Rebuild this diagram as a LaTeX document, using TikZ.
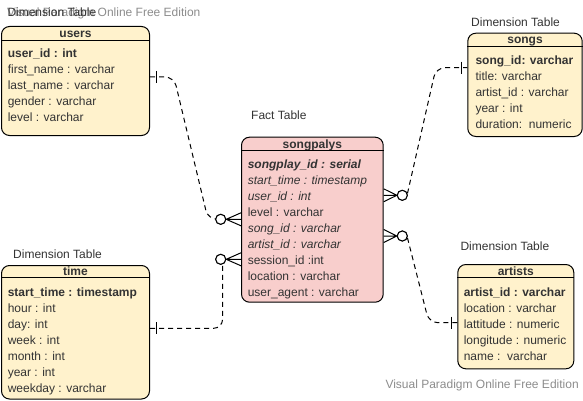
\documentclass[tikz,border=0pt]{standalone}
\usepackage{fontspec}
\setmainfont{Liberation Sans}
\usetikzlibrary{calc}

\definecolor{dimfill}{HTML}{FFF2CC}
\definecolor{factfill}{HTML}{F8CECC}
\definecolor{txtgray}{HTML}{333333}
\definecolor{markgray}{HTML}{8C8C8C}

\begin{document}
\begin{tikzpicture}[x = 1pt, y = -1pt, line width = 1pt,
        font = \fontsize{12}{14}\selectfont,
        dbtable/.style = {draw, rounded corners = 8pt, inner sep = 0pt, anchor = north west},
        tabtitle/.style = {inner sep = 0pt, text height = 8.6pt, text depth = 0pt, font = \fontsize{12}{14}\selectfont\bfseries, text = txtgray},
        rowtext/.style = {anchor = west, inner sep = 0pt, text height = 8.6pt, text depth = 0pt, text = txtgray},
        caption/.style = {anchor = west, inner sep = 0pt, text height = 8.6pt, text depth = 0pt, text = txtgray},
        watermark/.style = {anchor = west, inner sep = 0pt, text height = 8.6pt, text depth = 0pt, text = markgray},
        relline/.style = {dash pattern = on 5pt off 4pt, rounded corners = 9pt},
        optcirc/.style = {draw, fill = white, circle, inner sep = 0pt, minimum size = 10pt}]
        \useasboundingbox (0, 0) rectangle (583, 401);

        % watermarks and captions
        \node[watermark] (mark-top) at (6.7, 12.3) {Visual Paradigm Online Free Edition};
        \node[caption] (cap-users) at (7, 12.3) {Dimension Table};
        \node[caption] (cap-songs) at (470.7, 22) {Dimension Table};
        \node[caption] (cap-fact) at (250.7, 115) {Fact Table};
        \node[caption] (cap-time) at (12.7, 254) {Dimension Table};
        \node[caption] (cap-artists) at (460, 246) {Dimension Table};
        \node[watermark] (mark-bottom) at (385, 384) {Visual Paradigm Online Free Edition};

        % users
        \node[dbtable, fill = dimfill, minimum width = 148, minimum height = 109] (users) at (1, 26) {};
        \node[tabtitle] (users-title) at ($(users.north) + (0, 7.3)$) {users};
        \draw ($(users.north west) + (0, 14.5)$) -- ($(users.north east) + (0, 14.5)$);
        \foreach \txt [count = \i] in {{\bfseries user\_id : int}, first\_name : varchar, last\_name : varchar, gender : varchar, level : varchar}
            \node[rowtext] (users-\i) at ($(users.north west) + (6.3, 11.5 + 16 * \i)$) {\txt};

        % songs
        \node[dbtable, fill = dimfill, minimum width = 114.4, minimum height = 103.3] (songs) at (467.3, 32.7) {};
        \node[tabtitle] (songs-title) at ($(songs.north) + (0, 6.8)$) {songs};
        \draw ($(songs.north west) + (0, 13.5)$) -- ($(songs.north east) + (0, 13.5)$);
        \foreach \txt [count = \i] in {{\bfseries song\_id: varchar}, title: varchar, artist\_id : varchar, year : int, duration:\ \ numeric}
            \node[rowtext] (songs-\i) at ($(songs.north west) + (7.7, 11.3 + 16 * \i)$) {\txt};

        % songpalys
        \node[dbtable, fill = factfill, minimum width = 141.7, minimum height = 165] (fact) at (241, 136.7) {};
        \node[tabtitle] (fact-title) at ($(fact.north) + (0, 7)$) {songpalys};
        \draw ($(fact.north west) + (0, 14)$) -- ($(fact.north east) + (0, 14)$);
        \foreach \txt [count = \i] in {{\bfseries\itshape songplay\_id : serial}, {\itshape start\_time : timestamp}, {\itshape user\_id : int}, level : varchar, {\itshape song\_id : varchar}, {\itshape artist\_id : varchar}, session\_id :int, location : varchar, user\_agent : varchar}
            \node[rowtext] (fact-\i) at ($(fact.north west) + (6.3, 11.3 + 16 * \i)$) {\txt};

        % time
        \node[dbtable, fill = dimfill, minimum width = 148, minimum height = 133.5] (time) at (1, 265) {};
        \node[tabtitle] (time-title) at ($(time.north) + (0, 6.3)$) {time};
        \draw ($(time.north west) + (0, 12.7)$) -- ($(time.north east) + (0, 12.7)$);
        \foreach \txt [count = \i] in {{\bfseries start\_time : timestamp}, hour : int, day: int, week : int, month : int, year : int, weekday : varchar}
            \node[rowtext] (time-\i) at ($(time.north west) + (6.3, 11.3 + 16 * \i)$) {\txt};

        % artists
        \node[dbtable, fill = dimfill, minimum width = 116, minimum height = 104.3] (artists) at (457.3, 264) {};
        \node[tabtitle] (artists-title) at ($(artists.north) + (0, 7)$) {artists};
        \draw ($(artists.north west) + (0, 13.3)$) -- ($(artists.north east) + (0, 13.3)$);
        \foreach \txt [count = \i] in {{\bfseries artist\_id : varchar}, location : varchar, lattitude : numeric, longitude : numeric, name :\ \ varchar}
            \node[rowtext] (artists-\i) at ($(artists.north west) + (6, 11.7 + 16 * \i)$) {\txt};

        % relations
        \coordinate (uy) at (0, 77);
        \coordinate (ty) at (0, 328.3);
        \coordinate (sy) at (0, 67.7);
        \coordinate (ay) at (0, 322.7);
        \node[optcirc] (c1) at (220.7, 219.3) {};
        \node[optcirc] (c2) at (220.7, 259.3) {};
        \node[optcirc] (c3) at (402.3, 195.3) {};
        \node[optcirc] (c4) at (402.3, 236) {};

        \draw[relline] (users.east |- uy) -- (174, 77) -- (208, 219.3) -- (c1.west);
        \draw[relline] (time.east |- ty) -- (c2.-70 |- ty) -- (c2.-70);
        \draw[relline] (c3.20) -- (436, 67.7) -- (songs.west |- sy);
        \draw[relline] (c4.-20) -- (429, 322.7) -- (artists.west |- ay);

        % circles on top again
        \node[optcirc] at (c1) {};
        \node[optcirc] at (c2) {};
        \node[optcirc] at (c3) {};
        \node[optcirc] at (c4) {};

        % crow's feet
        \draw (c1.east) -- ($(fact.west |- c1) + (0, -6.5)$) (c1.east) -- (fact.west |- c1) (c1.east) -- ($(fact.west |- c1) + (0, 6.5)$);
        \draw (c2.east) -- ($(fact.west |- c2) + (0, -6.5)$) (c2.east) -- (fact.west |- c2) (c2.east) -- ($(fact.west |- c2) + (0, 6.5)$);
        \draw (c3.west) -- ($(fact.east |- c3) + (0, -6.5)$) (c3.west) -- (fact.east |- c3) (c3.west) -- ($(fact.east |- c3) + (0, 6.5)$);
        \draw (c4.west) -- ($(fact.east |- c4) + (0, -6.5)$) (c4.west) -- (fact.east |- c4) (c4.west) -- ($(fact.east |- c4) + (0, 6.5)$);

        % one marks
        \draw ($(users.east |- uy) + (6, -6)$) -- ++(0, 12);
        \draw ($(time.east |- ty) + (6.5, -6)$) -- ++(0, 12);
        \draw ($(songs.west |- sy) + (-6.3, -6)$) -- ++(0, 12);
        \draw ($(artists.west |- ay) + (-6.3, -6)$) -- ++(0, 12);
    \end{tikzpicture}
\end{document}
